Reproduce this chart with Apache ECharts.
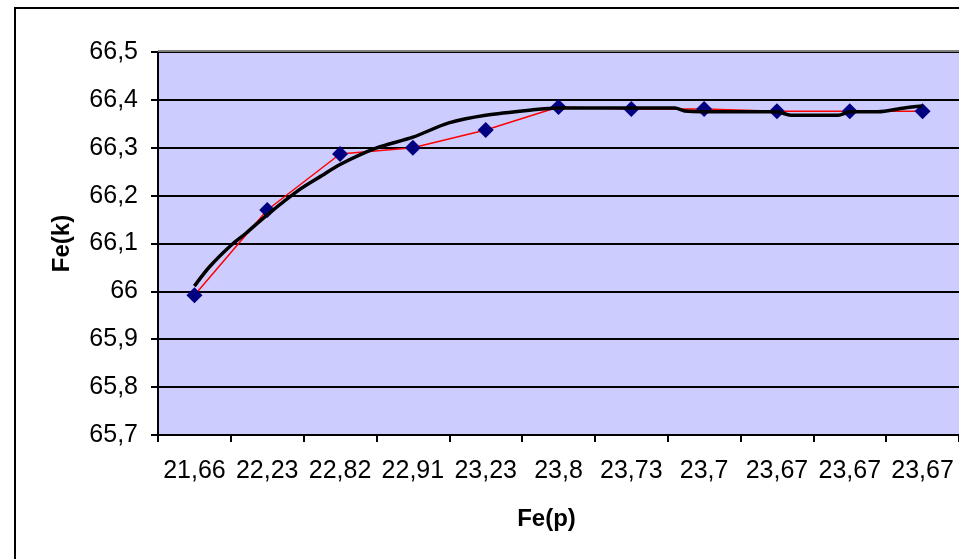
<!DOCTYPE html>
<html>
<head>
<meta charset="utf-8">
<script src="https://cdn.jsdelivr.net/npm/echarts@6/dist/echarts.min.js"></script>
<style>
  html, body { margin: 0; padding: 0; background: #ffffff; }
  #chart { width: 959px; height: 559px; }
</style>
</head>
<body>
<div id="chart"></div>
<script>
// Fe(p) categories along the bottom axis
const categories = ['21,66', '22,23', '22,82', '22,91', '23,23', '23,8', '23,73', '23,7', '23,67', '23,67', '23,67'];

// Measured Fe(k) values, one per category
const feK = [65.992, 66.17, 66.287, 66.30, 66.337, 66.385, 66.381, 66.381, 66.376, 66.376, 66.376];

// Smoothed trend curve: positions in category units and values
const trendPos = [0, 0.205, 0.507, 0.712, 1.0, 1.438, 1.753, 2.0, 2.493, 3.0, 3.493, 4.0, 4.63, 5.0, 6.6, 6.73, 7.37, 8.0, 8.19, 8.84, 9.0, 9.38, 9.75, 10.0];
const trendVal = [66.011, 66.051, 66.097, 66.122, 66.160, 66.212, 66.242, 66.265, 66.299, 66.322, 66.352, 66.368, 66.379, 66.383, 66.383, 66.377, 66.375, 66.375, 66.368, 66.368, 66.375, 66.375, 66.383, 66.387];

// Y axis ticks
const yMin = 65.7, yMax = 66.5, yStep = 0.1;

const comma = v => String(v).replace('.', ',');
const font = '"Liberation Sans", Arial, sans-serif';

const chart = echarts.init(document.getElementById('chart'), null, { renderer: 'canvas' });

chart.setOption({
  animation: false,
  backgroundColor: '#ffffff',
  graphic: [
    {
      type: 'rect',
      z: -10,
      shape: { x: 15, y: 8, width: 1000, height: 600 },
      style: { fill: 'none', stroke: '#000000', lineWidth: 2 }
    },
    {
      type: 'line',
      z: 10,
      shape: { x1: 158, y1: 51, x2: 962, y2: 51 },
      style: { stroke: '#808080', lineWidth: 2 }
    }
  ],
  grid: {
    left: 158, top: 52, right: -2, bottom: 124,
    show: true,
    backgroundColor: '#CCCCFF',
    borderWidth: 0
  },
  xAxis: [
    {
      type: 'category',
      data: categories,
      boundaryGap: true,
      name: 'Fe(p)',
      nameLocation: 'middle',
      nameGap: 72,
      nameTextStyle: { fontFamily: font, fontSize: 24, fontWeight: 'bold', color: '#000', padding: [0, 24, 0, 0] },
      axisLine: { show: true, onZero: false, lineStyle: { color: '#000', width: 2 } },
      axisTick: { show: true, alignWithLabel: false, length: 7, lineStyle: { color: '#000', width: 2 } },
      axisLabel: { fontFamily: font, fontSize: 25, color: '#000', margin: 24, interval: 0 },
      splitLine: { show: false }
    },
    {
      type: 'value',
      min: -0.5,
      max: 10.5,
      show: false
    }
  ],
  yAxis: {
    type: 'value',
    min: yMin,
    max: yMax,
    interval: yStep,
    name: 'Fe(k)',
    nameLocation: 'middle',
    nameGap: 84,
    nameRotate: 90,
    nameTextStyle: { fontFamily: font, fontSize: 24, fontWeight: 'bold', color: '#000' },
    axisLine: { show: true, onZero: false, lineStyle: { color: '#000', width: 2 } },
    axisTick: { show: true, length: 7, lineStyle: { color: '#000', width: 2 } },
    axisLabel: {
      fontFamily: font, fontSize: 25, color: '#000', margin: 20,
      formatter: v => comma(Math.round(v * 10) / 10)
    },
    splitLine: { show: true, lineStyle: { color: '#000', width: 2 } }
  },
  series: [
    {
      type: 'line',
      name: 'Fe(k)',
      xAxisIndex: 0,
      data: feK,
      symbol: 'diamond',
      symbolSize: 16,
      itemStyle: { color: '#000080' },
      lineStyle: { color: '#FF0000', width: 1.5 },
      z: 3
    },
    {
      type: 'line',
      name: 'trend',
      xAxisIndex: 1,
      data: trendPos.map((p, i) => [p, trendVal[i]]),
      symbol: 'none',
      smooth: 0.3,
      lineStyle: { color: '#000000', width: 3.5 },
      z: 4
    }
  ]
});
</script>
</body>
</html>
